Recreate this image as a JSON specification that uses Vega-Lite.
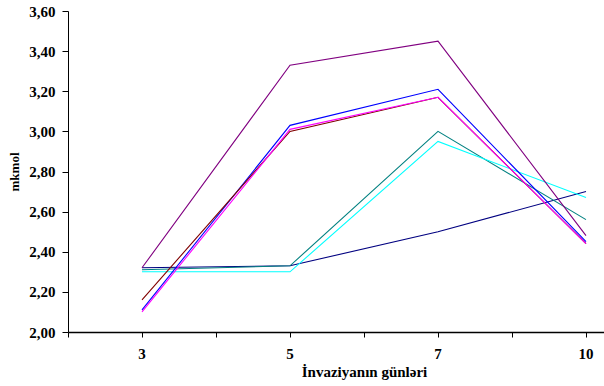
{
  "$schema": "https://vega.github.io/schema/vega-lite/v6.json",
  "width": 536,
  "height": 321,
  "autosize": {"type": "none"},
  "padding": {"left": 68, "top": 11, "right": 0, "bottom": 54},
  "background": "white",
  "config": {
    "view": {"stroke": null},
    "font": "Liberation Serif",
    "axis": {"labelFont": "Liberation Serif", "titleFont": "Liberation Serif", "labelFontWeight": "bold", "titleFontWeight": "bold", "labelColor": "black", "titleColor": "black", "domainColor": "black", "tickColor": "black", "grid": false}
  },
  "data": {"values": [
    {"day": "3", "series": "A", "value": 2.32},
    {"day": "5", "series": "A", "value": 2.33},
    {"day": "7", "series": "A", "value": 2.50},
    {"day": "10", "series": "A", "value": 2.70},
    {"day": "3", "series": "B", "value": 2.31},
    {"day": "5", "series": "B", "value": 2.33},
    {"day": "7", "series": "B", "value": 3.00},
    {"day": "10", "series": "B", "value": 2.56},
    {"day": "3", "series": "C", "value": 2.30},
    {"day": "5", "series": "C", "value": 2.30},
    {"day": "7", "series": "C", "value": 2.95},
    {"day": "10", "series": "C", "value": 2.67},
    {"day": "3", "series": "D", "value": 2.32},
    {"day": "5", "series": "D", "value": 3.33},
    {"day": "7", "series": "D", "value": 3.45},
    {"day": "10", "series": "D", "value": 2.48},
    {"day": "3", "series": "E", "value": 2.11},
    {"day": "5", "series": "E", "value": 3.03},
    {"day": "7", "series": "E", "value": 3.21},
    {"day": "10", "series": "E", "value": 2.45},
    {"day": "3", "series": "F", "value": 2.16},
    {"day": "5", "series": "F", "value": 3.00},
    {"day": "7", "series": "F", "value": 3.17},
    {"day": "10", "series": "F", "value": 2.44},
    {"day": "3", "series": "G", "value": 2.10},
    {"day": "5", "series": "G", "value": 3.01},
    {"day": "7", "series": "G", "value": 3.17},
    {"day": "10", "series": "G", "value": 2.44}
  ]},
  "layer": [
    {
      "mark": {"type": "point", "opacity": 0},
      "encoding": {
        "x": {"field": "day", "type": "ordinal", "sort": ["3", "5", "7", "10"], "bandPosition": 0.5,
          "scale": {"type": "band", "range": [0, 592], "paddingInner": 0, "paddingOuter": 0},
          "axis": {"orient": "bottom", "tickBand": "extent", "labels": false, "title": null, "domain": false, "tickSize": 5}},
        "y": {"field": "value", "type": "quantitative", "scale": {"domain": [2, 3.6], "zero": false, "nice": false},
          "axis": {"values": [2, 2.2, 2.4, 2.6, 2.8, 3.0, 3.2, 3.4, 3.6], "labelExpr": "replace(format(datum.value, '.2f'), '.', ',')",
            "labelFontSize": 15, "labelPadding": 7, "tickSize": 6, "title": "mkmol", "titleFontSize": 13, "titlePadding": 7}}
      }
    },
    {
      "mark": {"type": "line", "strokeWidth": 1.1, "clip": true},
      "encoding": {
        "x": {"field": "day", "type": "ordinal", "sort": ["3", "5", "7", "10"], "bandPosition": 0.5,
          "axis": {"orient": "bottom", "labelAngle": 0, "labelFontSize": 15, "labelPadding": 9, "tickSize": 5, "domainWidth": 1.5,
            "title": "İnvaziyanın günləri", "titleFontSize": 15, "titlePadding": 3}},
        "y": {"field": "value", "type": "quantitative",
          "scale": {"domain": [2, 3.6], "zero": false, "nice": false},
          "axis": {"values": [2, 2.2, 2.4, 2.6, 2.8, 3.0, 3.2, 3.4, 3.6], "labelExpr": "replace(format(datum.value, '.2f'), '.', ',')",
            "labelFontSize": 15, "labelPadding": 7, "tickSize": 6, "title": "mkmol", "titleFontSize": 13, "titlePadding": 7}},
        "color": {"field": "series", "type": "nominal", "legend": null,
          "scale": {"domain": ["A", "B", "C", "D", "E", "G", "F"], "range": ["#000080", "#008080", "#00FFFF", "#800080", "#0000FF", "#FF00FF", "#800000"]}}
      }
    }
  ],
  "resolve": {"axis": {"x": "independent"}}
}
